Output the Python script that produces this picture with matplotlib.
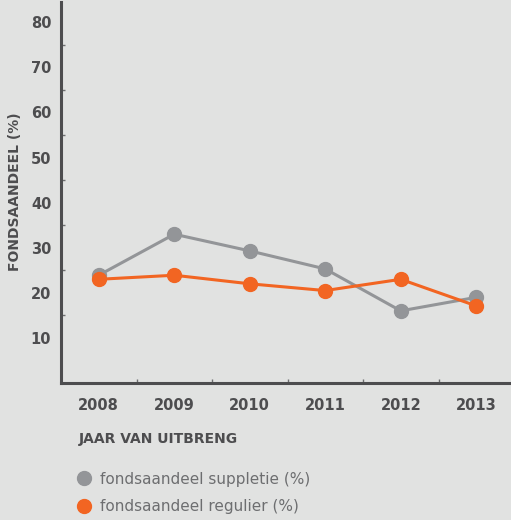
import matplotlib.pyplot as plt
from matplotlib.lines import Line2D

years = ['2008', '2009', '2010', '2011', '2012', '2013']
suppletie = [23.9, 33.0, 29.3, 25.3, 16.0, 19.0]
regulier = [23.0, 23.9, 22.0, 20.5, 23.0, 17.1]
y_ticks = [10, 20, 30, 40, 50, 60, 70, 80]

bg = '#e1e2e1'
txt = '#4d4d4f'
grey = '#939598'
orange = '#f26522'

fig = plt.figure(figsize=(5.11, 5.2), dpi=100, facecolor=bg)
ax = fig.add_axes([61 / 511, 137 / 520, 453 / 511, 381 / 520], facecolor=bg)

x = range(len(years))
ax.plot(x, suppletie, 'o-', color=grey, lw=2.2, markersize=10, zorder=3)
ax.plot(x, regulier, 'o-', color=orange, lw=2.2, markersize=10, zorder=4)

ax.set_xlim(-0.5, 5.5)
ax.set_ylim(0, 84.5)
ax.set_yticks(y_ticks)
ax.set_yticklabels([str(v) for v in y_ticks])
ax.set_yticks([15, 25, 35, 45, 55, 65, 75], minor=True)
ax.set_xticks(list(x))
ax.set_xticklabels(years)
ax.set_xticks([0.5, 1.5, 2.5, 3.5, 4.5], minor=True)

for s in ['top', 'right']:
    ax.spines[s].set_visible(False)
for s in ['left', 'bottom']:
    ax.spines[s].set_color(txt)
    ax.spines[s].set_linewidth(2.2)

ax.tick_params(axis='both', which='major', length=0, colors=txt, labelsize=10.5)
ax.tick_params(axis='y', which='major', pad=7)
ax.tick_params(axis='x', which='major', pad=11)
ax.tick_params(axis='both', which='minor', direction='in', length=3, width=1, color='#6d6e70')
for lab in ax.get_xticklabels() + ax.get_yticklabels():
    lab.set_fontweight('bold')

fig.text(15 / 511, 1 - 192 / 520, 'FONDSAANDEEL (%)', rotation=90, ha='center', va='center',
         fontsize=10, fontweight='bold', color=txt)
fig.text(79 / 511, 1 - 439 / 520, 'JAAR VAN UITBRENG', ha='left', va='center',
         fontsize=10, fontweight='bold', color=txt)

handles = [Line2D([], [], marker='o', ls='', color=grey, markersize=10),
           Line2D([], [], marker='o', ls='', color=orange, markersize=10)]
fig.legend(handles, ['fondsaandeel suppletie (%)', 'fondsaandeel regulier (%)'],
           loc='upper left', bbox_to_anchor=(67 / 511, 1 - 464 / 520), frameon=False,
           handletextpad=0.45, handlelength=1.2, labelspacing=0.8, borderpad=0,
           labelcolor='#6d6e70', prop={'size': 11})

fig.savefig('out.png', dpi=100, facecolor=bg)
